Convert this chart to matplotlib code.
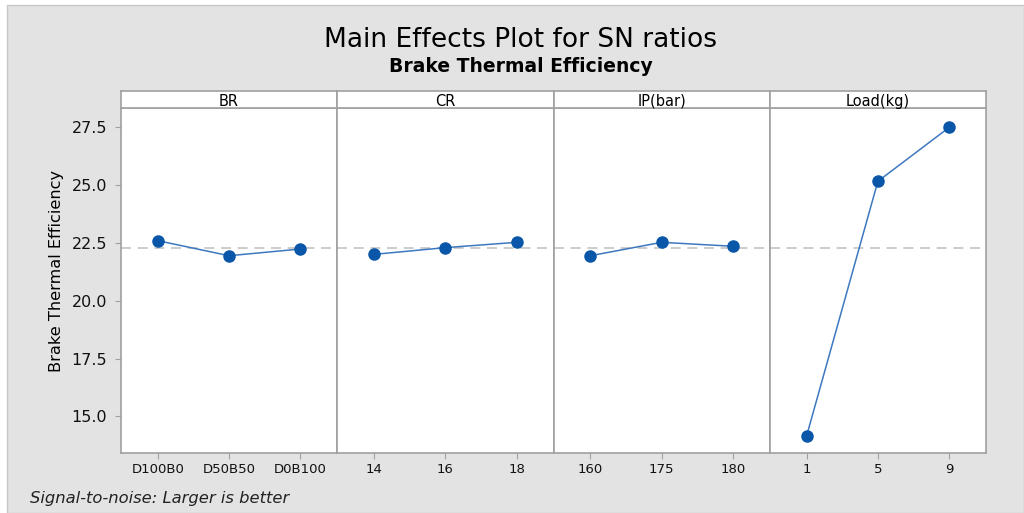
import matplotlib.pyplot as plt
from matplotlib.patches import Rectangle

# data
factors = ["BR", "CR", "IP(bar)", "Load(kg)"]
levels = [
    ["D100B0", "D50B50", "D0B100"],
    ["14", "16", "18"],
    ["160", "175", "180"],
    ["1", "5", "9"],
]
sn_br = [22.60, 21.95, 22.24]
sn_cr = [22.01, 22.30, 22.53]
sn_ip = [21.95, 22.53, 22.36]
sn_load = [14.17, 25.17, 27.50]
grand_mean = 22.30

series = [sn_br, sn_cr, sn_ip, sn_load]
yticks = [15.0, 17.5, 20.0, 22.5, 25.0, 27.5]

plt.rcParams['font.family'] = ['DejaVu Sans']

W, H = 1024, 513
fig = plt.figure(figsize=(W / 100, H / 100), dpi=100)
fig.patch.set_facecolor("white")

# grey background panel
fig.patches.append(Rectangle((7 / W, 0), 1 - 7 / W, 1 - 5 / H, transform=fig.transFigure,
                             facecolor="#e3e3e3", edgecolor="#c8c8c8", linewidth=1, zorder=-10))

fig.text(521 / W, 1 - 40 / H, "Main Effects Plot for SN ratios", ha="center", va="center",
         fontsize=19, color="black")
fig.text(521 / W, 1 - 66 / H, "Brake Thermal Efficiency", ha="center", va="center",
         fontsize=13.5, fontweight="bold", color="black")
fig.text(57 / W, 1 - 271 / H, "Brake Thermal Efficiency", ha="center", va="center",
         rotation=90, fontsize=11.6, color="black")
fig.text(30 / W, 1 - 498 / H, "Signal-to-noise: Larger is better", ha="left", va="center",
         fontsize=11.8, style="italic", color="#222222")

x0, x1 = 121, 986
top, strip_bot, bot = 91, 108.3, 453.3
pw = (x1 - x0) / 4
spine_c = "#a0a0a0"

for i, (name, labs, vals) in enumerate(zip(factors, levels, series)):
    left = x0 + i * pw
    ax = fig.add_axes([left / W, 1 - bot / H, pw / W, (bot - strip_bot) / H])
    ax.set_facecolor("white")
    xs = range(len(vals))
    ax.axhline(grand_mean, color="#c3c3c3", linestyle=(0, (6, 4)), linewidth=1.2, zorder=1)
    ax.plot(xs, vals, color="#3d78c0", linewidth=1.1, zorder=2)
    ax.plot(xs, vals, "o", color="#0a56a8", markersize=8, zorder=3)
    ax.set_xlim(-0.52, 2.52)
    ax.set_ylim(13.4, 28.33)
    ax.set_xticks(list(xs))
    ax.set_xticklabels(labs, fontsize=9.5, color="#111111")
    ax.set_yticks(yticks)
    if i == 0:
        ax.set_yticklabels([f"{v:.1f}" for v in yticks], fontsize=11.5, color="#111111")
        ax.tick_params(axis="y", length=4, color=spine_c, pad=6)
    else:
        ax.tick_params(axis="y", left=False, labelleft=False)
    ax.tick_params(axis="x", length=4, color=spine_c, pad=3)
    for s in ax.spines.values():
        s.set_color(spine_c)
        s.set_linewidth(1.2)

    sax = fig.add_axes([left / W, 1 - strip_bot / H, pw / W, (strip_bot - top) / H])
    sax.set_facecolor("white")
    sax.set_xticks([])
    sax.set_yticks([])
    for s in sax.spines.values():
        s.set_color(spine_c)
        s.set_linewidth(1.2)
    sax.text(0.5, 0.5, name, ha="center", va="center_baseline", fontsize=10.5,
             transform=sax.transAxes)

fig.savefig("out.png", dpi=100)
